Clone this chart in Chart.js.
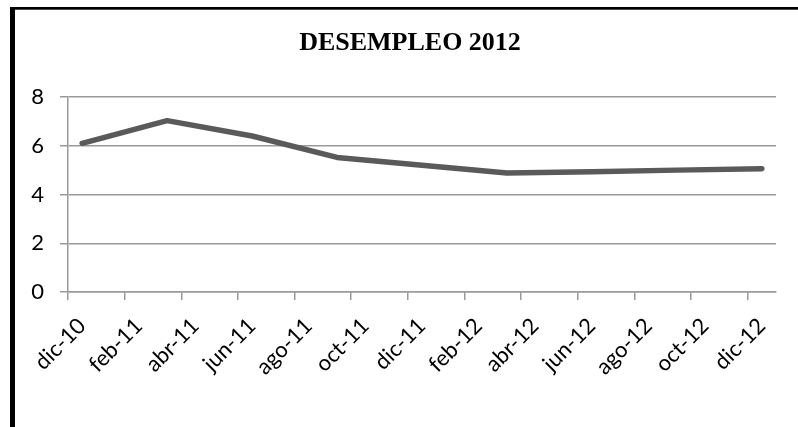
<!DOCTYPE html>
<html>
<head>
<meta charset="utf-8">
<script src="https://cdn.jsdelivr.net/npm/chart.js@4/dist/chart.umd.min.js"></script>
<style>
  html, body { margin: 0; padding: 0; background: #fff; }
  #wrap { position: relative; width: 798px; height: 427px; }
</style>
</head>
<body>
<div id="wrap"><canvas id="chart" width="798" height="427"></canvas></div>
<script>
// Quarterly unemployment readings (month-year of each reading)
const periods = ['dic-10', 'mar-11', 'jun-11', 'sep-11', 'dic-11', 'mar-12', 'jun-12', 'sep-12', 'dic-12'];
const unemployment = [6.1, 7.03, 6.4, 5.52, 5.2, 4.88, 4.93, 5.0, 5.06];

// Date-axis labels, one every two months
const tickLabels = ['dic-10', 'feb-11', 'abr-11', 'jun-11', 'ago-11', 'oct-11', 'dic-11',
                    'feb-12', 'abr-12', 'jun-12', 'ago-12', 'oct-12', 'dic-12'];
const yTicks = [0, 2, 4, 6, 8];

const chartTitle = 'DESEMPLEO 2012';

// Month index counted from the first axis month (dic-10 = 0)
const monthNames = ['ene', 'feb', 'mar', 'abr', 'may', 'jun', 'jul', 'ago', 'sep', 'oct', 'nov', 'dic'];
function monthIndex(label) {
  const [m, y] = label.split('-');
  return (2000 + Number(y)) * 12 + monthNames.indexOf(m);
}
const origin = monthIndex(tickLabels[0]);
const tickPositions = tickLabels.map(l => monthIndex(l) - origin);
// each reading sits in the middle of its month on the date axis
const points = periods.map((p, i) => ({ x: monthIndex(p) - origin + 0.5, y: unemployment[i] }));
const axisEnd = tickPositions[tickPositions.length - 1] + 1;

const frameAndTitle = {
  id: 'frameAndTitle',
  beforeDraw(chart) {
    const ctx = chart.ctx;
    ctx.save();
    ctx.fillStyle = '#fff';
    ctx.fillRect(0, 0, chart.width, chart.height);
    ctx.fillStyle = '#000';
    ctx.fillRect(10, 7, 5, chart.height - 7);
    ctx.fillRect(10, 7, chart.width - 10, 2.7);
    ctx.restore();
  },
  afterDraw(chart) {
    const ctx = chart.ctx;
    ctx.save();
    ctx.fillStyle = '#000';
    ctx.font = 'bold 26px "Liberation Serif", "Times New Roman", serif';
    ctx.textAlign = 'center';
    ctx.textBaseline = 'middle';
    ctx.fillText(chartTitle, 410, 43);
    ctx.restore();
  }
};

const gridGrey = '#9a9a9a';

new Chart(document.getElementById('chart'), {
  type: 'line',
  data: {
    datasets: [{
      label: 'Desempleo',
      data: points,
      borderColor: '#5a5a5a',
      borderWidth: 5.5,
      borderCapStyle: 'round',
      borderJoinStyle: 'round',
      pointRadius: 0,
      tension: 0,
      fill: false
    }]
  },
  options: {
    responsive: false,
    animation: false,
    devicePixelRatio: 1,
    layout: { padding: { top: 97, right: 22, left: 0, bottom: 0 } },
    plugins: {
      legend: { display: false },
      title: { display: false },
      tooltip: { enabled: false }
    },
    scales: {
      x: {
        type: 'linear',
        min: 0,
        max: axisEnd,
        afterBuildTicks(scale) {
          scale.ticks = tickPositions.map(v => ({ value: v }));
        },
        afterFit(scale) { scale.height = 135; },
        border: { display: true, color: gridGrey, width: 1.5 },
        grid: {
          drawOnChartArea: false,
          drawTicks: true,
          tickLength: 8,
          color: gridGrey,
          lineWidth: 1.5
        },
        ticks: {
          autoSkip: false,
          maxRotation: 45,
          minRotation: 45,
          labelOffset: 14,
          padding: 13,
          color: '#000',
          font: { family: 'Lato, "Noto Sans", sans-serif', size: 22 },
          callback(value) {
            const i = tickPositions.indexOf(value);
            return i >= 0 ? tickLabels[i] : '';
          }
        }
      },
      y: {
        min: 0,
        max: 8,
        afterBuildTicks(scale) {
          scale.ticks = yTicks.map(v => ({ value: v }));
        },
        afterFit(scale) { scale.width = 68; },
        border: { display: true, color: gridGrey, width: 1.5 },
        grid: {
          color: gridGrey,
          lineWidth: 1.5,
          tickLength: 8
        },
        ticks: {
          padding: 16,
          color: '#000',
          font: { family: 'Lato, "Noto Sans", sans-serif', size: 22 }
        }
      }
    }
  },
  plugins: [frameAndTitle]
});
</script>
</body>
</html>
